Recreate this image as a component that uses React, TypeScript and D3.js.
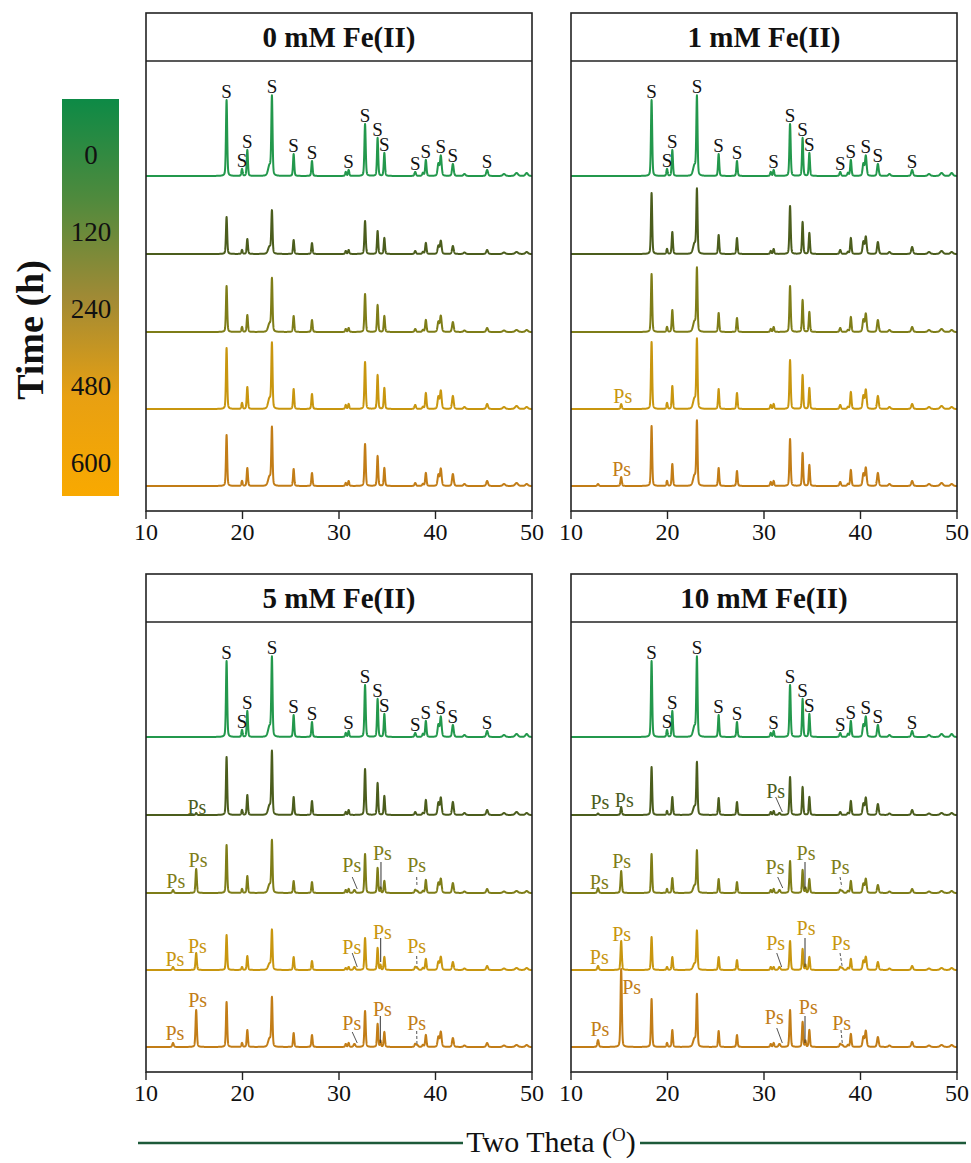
import React, { useMemo } from 'react';
import * as d3 from 'd3';

// ---------- data ----------
const panelTitles = ['0 mM Fe(II)', '1 mM Fe(II)', '5 mM Fe(II)', '10 mM Fe(II)'];
const timeLabels = ['0', '120', '240', '480', '600'];
const xTicks = [10, 20, 30, 40, 50];

// reflections of the S phase (2θ, degrees) and their widths (FWHM, degrees)
const sPeaks = [18.35, 19.95, 20.5, 22.8, 23.05, 25.3, 27.2, 30.7, 31.0, 32.7, 34.0, 34.7, 37.9, 38.7, 39.0, 40.3, 40.55, 41.8, 43.0, 45.35, 47.1, 48.4, 49.45];
const sWidths = [0.15, 0.15, 0.15, 0.35, 0.15, 0.15, 0.15, 0.15, 0.15, 0.16, 0.15, 0.15, 0.18, 0.18, 0.16, 0.2, 0.2, 0.2, 0.25, 0.22, 0.3, 0.35, 0.3];
// reflections of the Ps phase
const psPeaks = [12.8, 15.2, 31.6, 34.3, 38.1];
const psWidths = [0.18, 0.16, 0.22, 0.12, 0.22];

// S reflections that carry an "S" tag on the 0 h pattern (indices into sPeaks)
const sTagged = [0, 1, 2, 4, 5, 6, 8, 9, 10, 11, 12, 14, 16, 17, 19];

// peak intensities (a.u.), rows = 0, 120, 240, 480, 600 h
const sInt0mM = [
  [76, 7, 26, 10, 78, 22, 15, 4, 6, 52, 38, 23, 4, 3, 16, 12, 20, 12, 2, 6, 2, 3, 3],
  [37, 4, 15, 7, 42, 14, 11, 3, 4, 33, 23, 16, 3, 2, 11, 8, 13, 8, 1.5, 4, 1.5, 2, 2],
  [46, 5, 17, 8, 52, 16, 12, 3, 4, 38, 27, 16, 3, 2, 12, 10, 16, 10, 1.5, 4, 1.5, 2, 2],
  [61, 6, 22, 10, 64, 20, 15, 4, 5, 47, 34, 21, 4, 2, 16, 12, 18, 13, 2, 5, 2, 3, 2],
  [51, 5, 18, 9, 57, 17, 13, 3, 5, 42, 30, 18, 3, 2, 13, 11, 17, 12, 2, 5, 2, 3, 2],
];
const sInt1mM = [
  [76, 7, 26, 10, 78, 22, 15, 4, 6, 52, 38, 23, 4, 3, 16, 12, 20, 12, 2, 6, 2, 3, 3],
  [61, 5, 22, 10, 63, 19, 16, 3, 5, 48, 32, 21, 4, 2, 16, 12, 17, 12, 2, 7, 2, 3, 2],
  [58, 5, 22, 10, 62, 19, 14, 3, 5, 46, 32, 20, 4, 2, 15, 12, 18, 12, 2, 5, 2, 3, 2],
  [67, 6, 23, 10, 68, 20, 16, 4, 5, 49, 34, 21, 4, 2, 17, 13, 19, 13, 2, 5, 2, 3, 2],
  [60, 5, 22, 10, 63, 18, 15, 4, 5, 47, 33, 21, 4, 2, 16, 12, 18, 13, 2, 5, 2, 3, 2],
];
const sInt5mM = [
  [76, 7, 26, 10, 78, 22, 15, 4, 6, 52, 38, 23, 4, 3, 16, 12, 20, 12, 2, 6, 2, 3, 3],
  [58, 5, 20, 9, 62, 18, 14, 3, 5, 46, 32, 19, 3, 2, 15, 12, 17, 13, 2, 5, 2, 3, 2],
  [48, 4, 17, 8, 51, 12, 11, 3, 4, 39, 25, 12, 3, 2, 13, 10, 14, 10, 1.5, 4, 1.5, 2, 2],
  [35, 3, 14, 6, 39, 13, 9, 2, 3, 32, 22, 13, 3, 2, 11, 8, 13, 8, 1.5, 4, 1.5, 2, 2],
  [45, 4, 17, 8, 48, 14, 12, 3, 4, 36, 23, 15, 3, 2, 12, 10, 15, 9, 1.5, 4, 1.5, 2, 2],
];
const sInt10mM = [
  [76, 7, 26, 10, 78, 22, 15, 4, 6, 52, 38, 23, 4, 3, 16, 12, 20, 12, 2, 6, 2, 3, 3],
  [48, 4, 18, 8, 51, 17, 13, 3, 4, 38, 28, 18, 3, 2, 14, 11, 17, 11, 1.5, 5, 1.5, 2, 2],
  [39, 4, 15, 7, 41, 14, 11, 3, 4, 32, 23, 14, 3, 2, 12, 9, 14, 8, 1.5, 4, 1.5, 2, 2],
  [33, 3, 13, 6, 38, 13, 10, 3, 3, 29, 21, 13, 3, 2, 11, 9, 13, 8, 1.5, 4, 1.5, 2, 2],
  [48, 4, 17, 8, 51, 16, 12, 3, 4, 37, 25, 17, 3, 2, 13, 10, 16, 10, 1.5, 5, 1.5, 2, 2],
];

const psInt0mM = [[0, 0, 0, 0, 0], [0, 0, 0, 0, 0], [0, 0, 0, 0, 0], [0, 0, 0, 0, 0], [0, 0, 0, 0, 0]];
const psInt1mM = [[0, 0, 0, 0, 0], [0, 0, 0, 0, 0], [0, 0, 0, 0, 0], [0, 5, 0, 0, 0], [2, 9, 0, 0, 0]];
const psInt5mM = [[0, 0, 0, 0, 0], [0, 2, 0, 0, 0], [3, 24, 3, 5, 2], [3, 17, 3, 5, 2], [4, 37, 3, 6, 2]];
const psInt10mM = [[0, 0, 0, 0, 0], [1.5, 8, 2, 0, 0], [5, 22, 3, 5, 2], [4, 29, 3, 5, 2], [7, 78, 3, 6, 2]];

// "Ps" tags: [pattern row, 2θ, height above that pattern's baseline]
const psTags1mM = [[3, 15.36, 13], [4, 15.25, 17]];
const psTags5mM = [
  [1, 15.28, 8],
  [2, 13.08, 12], [2, 15.39, 33], [2, 31.32, 28], [2, 34.49, 40], [2, 38.05, 28],
  [3, 13.0, 11], [3, 15.32, 24], [3, 31.32, 23], [3, 34.49, 38], [3, 38.05, 24],
  [4, 13.0, 14], [4, 15.35, 47], [4, 31.32, 24], [4, 34.49, 38], [4, 38.05, 24],
];
const psTags10mM = [
  [1, 13.0, 13], [1, 15.52, 15], [1, 31.21, 24],
  [2, 12.93, 11], [2, 15.25, 32], [2, 31.14, 26], [2, 34.35, 40], [2, 37.88, 26],
  [3, 12.93, 13], [3, 15.25, 36], [3, 31.21, 27], [3, 34.35, 42], [3, 37.98, 27],
  [4, 13.0, 18], [4, 16.29, 60], [4, 31.07, 30], [4, 34.59, 40], [4, 38.05, 24],
];
// leader lines: [row, 2θ start, height start, 2θ end, height end, style]
const psLeaders5mM = [
  [2, 31.37, 16, 31.89, 4, 'slant'], [2, 34.35, 31, 34.35, 4, 'solid'], [2, 38.05, 16, 38.08, 6, 'dash'],
  [3, 31.37, 17, 31.89, 3, 'slant'], [3, 34.32, 32, 34.32, 8, 'solid'], [3, 38.05, 14, 38.08, 3, 'dash'],
  [4, 31.37, 15, 31.89, 4, 'slant'], [4, 34.28, 31, 34.28, 4, 'solid'], [4, 38.05, 16, 38.08, 2, 'dash'],
];
const psLeaders10mM = [
  [1, 31.21, 18, 31.9, 3, 'slant'],
  [2, 31.42, 16, 31.94, 5, 'slant'], [2, 34.25, 31, 34.25, 4, 'solid'], [2, 37.88, 16, 38.06, 6, 'dash'],
  [3, 31.32, 17, 31.83, 3, 'slant'], [3, 34.25, 32, 34.25, 3, 'solid'], [3, 37.88, 17, 38.11, 3, 'dash'],
  [4, 31.32, 19, 31.9, 4, 'slant'], [4, 34.25, 31, 34.25, 4, 'solid'], [4, 37.98, 17, 38.11, 4, 'dash'],
];

const sIntensities = [sInt0mM, sInt1mM, sInt5mM, sInt10mM];
const psIntensities = [psInt0mM, psInt1mM, psInt5mM, psInt10mM];
const psTags = [[], psTags1mM, psTags5mM, psTags10mM];
const psLeaders = [[], [], psLeaders5mM, psLeaders10mM];

// ---------- styling / layout ----------
const W = 971;
const H = 1163;
const traceColors = ['#23984c', '#4b5d1d', '#7e7d18', '#c8960f', '#c27d17'];
const serif = "'Liberation Serif', 'Times New Roman', serif";
const panelX = [146, 571];
const panelY = [13, 574];
const panelW = 386;
const titleH = 48;
const plotH = 450;
const baselines = [335, 257, 179, 102, 25];

// pseudo-Voigt profile of unit height
function profile(x: number, c: number, w: number) {
  const u = (x - c) / w;
  const g = Math.exp(-4 * Math.LN2 * u * u);
  const l = 1 / (1 + 4 * u * u);
  return 0.7 * g + 0.3 * l;
}

function pattern(sInt: number[], psInt: number[]) {
  const pts: [number, number][] = [];
  for (let i = 0; i <= 4000; i++) {
    const x = 10 + i * 0.01;
    let y = 0;
    for (let k = 0; k < sPeaks.length; k++) {
      if (sInt[k]) y += sInt[k] * profile(x, sPeaks[k], sWidths[k]);
    }
    for (let k = 0; k < psPeaks.length; k++) {
      if (psInt[k]) y += psInt[k] * profile(x, psPeaks[k], psWidths[k]);
    }
    pts.push([x, y]);
  }
  return pts;
}

function topNear(pts: [number, number][], c: number) {
  let m = 0;
  for (const [x, y] of pts) if (Math.abs(x - c) <= 0.08 && y > m) m = y;
  return m;
}

function Panel({ idx }: { idx: number }) {
  const x0 = panelX[idx % 2];
  const y0 = panelY[Math.floor(idx / 2)];
  const axisY = y0 + titleH + plotH;
  const x = d3.scaleLinear().domain([10, 50]).range([x0, x0 + panelW]);
  const y = d3.scaleLinear().domain([0, plotH]).range([axisY, axisY - plotH]);

  const patterns = useMemo(
    () => sIntensities[idx].map((row, t) => pattern(row, psIntensities[idx][t])),
    [idx]
  );

  return (
    <g>
      {patterns.map((pts, t) => {
        const line = d3
          .line<[number, number]>()
          .x((d) => x(d[0]))
          .y((d) => y(baselines[t] + d[1]));
        return (
          <path key={t} d={line(pts) || ''} fill="none" stroke={traceColors[t]} strokeWidth={2} strokeLinejoin="round" />
        );
      })}

      {sTagged.map((k) => {
        const top = topNear(patterns[0], sPeaks[k]);
        return (
          <text key={k} x={x(sPeaks[k])} y={y(baselines[0] + top) - 2} fontFamily={serif} fontSize={19} textAnchor="middle" fill="#111">
            S
          </text>
        );
      })}

      {psLeaders[idx].map((l: any, i: number) => (
        <line
          key={'l' + i}
          x1={x(l[1])}
          y1={y(baselines[l[0]] + l[2])}
          x2={x(l[3])}
          y2={y(baselines[l[0]] + l[4])}
          stroke={l[5] === 'solid' ? '#333' : '#555'}
          strokeWidth={1}
          strokeDasharray={l[5] === 'dash' ? '3,2' : undefined}
        />
      ))}

      {psTags[idx].map((p: any, i: number) => (
        <text
          key={'p' + i}
          x={x(p[1])}
          y={y(baselines[p[0]] + p[2])}
          dy="0.35em"
          fontFamily={serif}
          fontSize={20}
          textAnchor="middle"
          fill={traceColors[p[0]]}
        >
          Ps
        </text>
      ))}

      {/* frame and title strip */}
      <rect x={x0} y={y0} width={panelW} height={titleH + plotH} fill="none" stroke="#222" strokeWidth={1.6} />
      <line x1={x0} x2={x0 + panelW} y1={y0 + titleH} y2={y0 + titleH} stroke="#222" strokeWidth={1.6} />
      <text x={x0 + panelW / 2} y={y0 + titleH / 2 + 10} fontFamily={serif} fontWeight="bold" fontSize={29} textAnchor="middle" fill="#111">
        {panelTitles[idx]}
      </text>

      {xTicks.map((v) => (
        <g key={v}>
          <line x1={x(v)} x2={x(v)} y1={axisY} y2={axisY + 8} stroke="#222" strokeWidth={1.4} />
          <text x={x(v)} y={axisY + 29} fontFamily={serif} fontSize={24} textAnchor="middle" fill="#111">
            {v}
          </text>
        </g>
      ))}
    </g>
  );
}

export default function App() {
  const cbX = 62;
  const cbY = 99;
  const cbW = 57;
  const cbH = 397;
  const cb = d3.scaleLinear().domain([0, timeLabels.length - 1]).range([cbY + 56, cbY + 364]);
  return (
    <svg width={W} height={H} style={{ position: 'absolute', left: 0, top: 0, background: '#fff' }}>
      <defs>
        <linearGradient id="timeGrad" x1="0" y1="0" x2="0" y2="1">
          <stop offset="0%" stopColor="#0d8a46" />
          <stop offset="25%" stopColor="#4f8a3d" />
          <stop offset="50%" stopColor="#a08a35" />
          <stop offset="75%" stopColor="#e8a012" />
          <stop offset="100%" stopColor="#f9a900" />
        </linearGradient>
      </defs>
      <rect width={W} height={H} fill="#fff" />

      <rect x={cbX} y={cbY} width={cbW} height={cbH} fill="url(#timeGrad)" />
      {timeLabels.map((t, i) => (
        <text key={t} x={91} y={cb(i)} dy="0.35em" fontFamily={serif} fontSize={27} textAnchor="middle" fill="#111">
          {t}
        </text>
      ))}
      <text
        transform="translate(43,330) rotate(-90)"
        fontFamily={serif}
        fontWeight="bold"
        fontSize={38}
        textAnchor="middle"
        fill="#111"
      >
        Time (h)
      </text>

      {[0, 1, 2, 3].map((i) => (
        <Panel key={i} idx={i} />
      ))}

      <line x1={138} x2={463} y1={1143} y2={1143} stroke="#1d5a3a" strokeWidth={2.5} />
      <line x1={640} x2={966} y1={1143} y2={1143} stroke="#1d5a3a" strokeWidth={2.5} />
      <text x={551} y={1152} fontFamily={serif} fontSize={30} textAnchor="middle" fill="#111">
        Two Theta (<tspan dy={-11} fontSize={19}>O</tspan>
        <tspan dy={11}>)</tspan>
      </text>
    </svg>
  );
}
